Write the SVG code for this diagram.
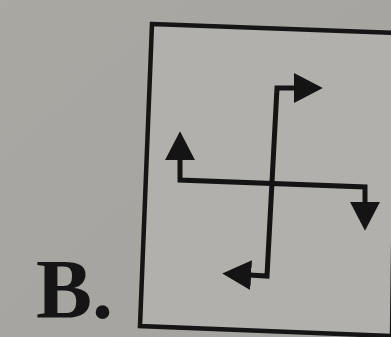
<svg xmlns="http://www.w3.org/2000/svg" width="391" height="337" viewBox="0 0 391 337">
<style>
.ln{fill:none;stroke:#141414;stroke-width:5;stroke-linejoin:miter}
.box{fill:#b1b0ac;stroke:#151515;stroke-width:4.5}
.lbl{font-family:"Liberation Serif",serif;font-weight:bold;font-size:84px;fill:#151515}
</style>
<defs>
<linearGradient id="bg" x1="0" y1="0" x2="1" y2="1">
<stop offset="0" stop-color="#a9a8a3"/>
<stop offset="1" stop-color="#a4a39f"/>
</linearGradient>
<marker id="ah" markerUnits="userSpaceOnUse" markerWidth="30" markerHeight="30" refX="2" refY="14" orient="auto-start-reverse" viewBox="0 0 28 28">
<path d="M0 0 L27 14 L0 28 Z" fill="#141414"/>
</marker>
</defs>
<rect width="391" height="337" fill="url(#bg)"/>
<g id="label"><text class="lbl" x="36" y="318">B.</text></g>
<g id="frame"><polygon class="box" points="152,24 396,33 392,336 140,326"/></g>
<g id="connectors">
<path class="ln" d="M249 275 L267 276 L277 88 L296 88" marker-start="url(#ah)" marker-end="url(#ah)"/>
<path class="ln" d="M180 158 L180 180 L365 187 L365 204" marker-start="url(#ah)" marker-end="url(#ah)"/>
</g>
</svg>
